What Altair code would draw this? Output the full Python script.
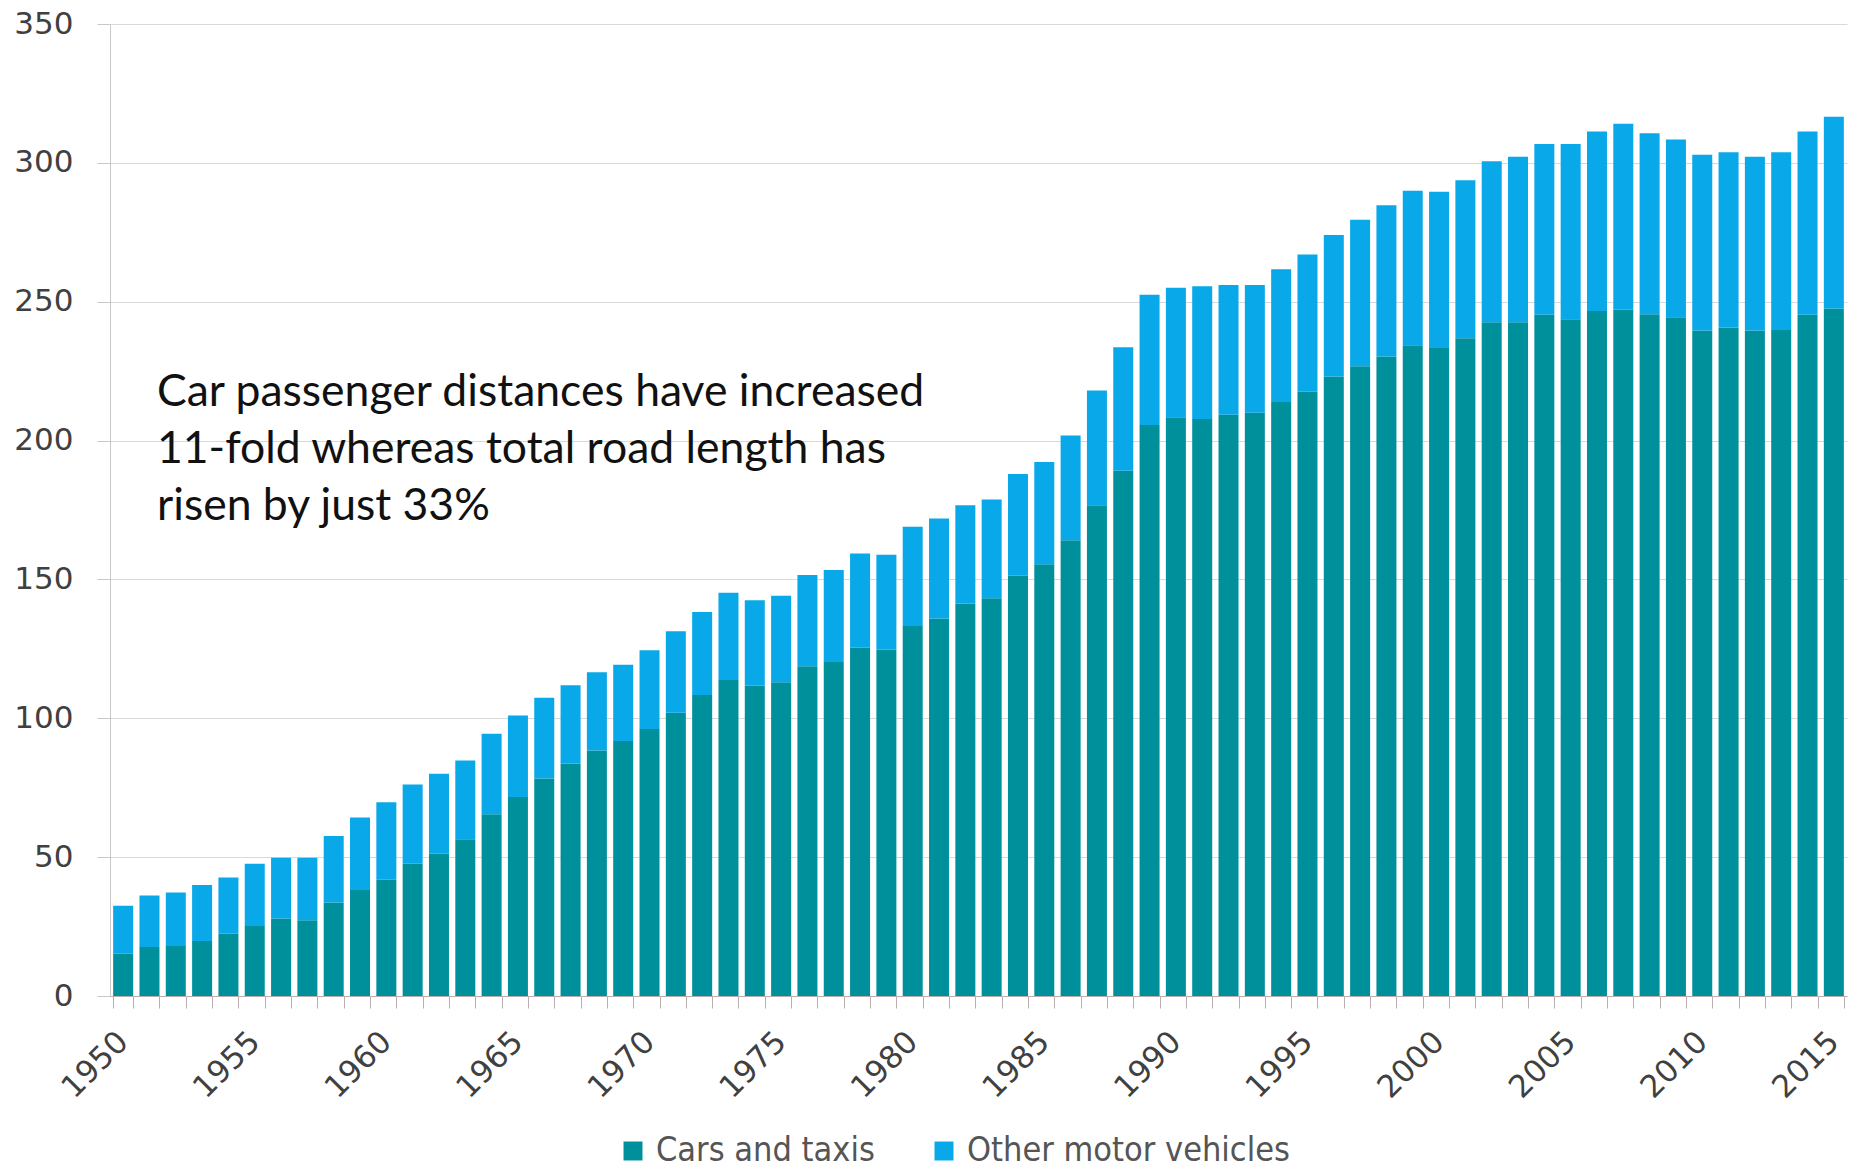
import altair as alt
import pandas as pd

# Road passenger traffic, billion vehicle kilometres, by year
years = list(range(1950, 2016))

cars_taxis = [
    15.2, 17.6, 18.0, 19.8, 22.5, 25.2, 27.9, 27.3, 33.7, 38.2,
    41.9, 47.6, 51.2, 56.4, 65.4, 71.7, 78.3, 83.7, 88.4, 91.8,
    96.1, 102.0, 108.4, 113.8, 111.7, 113.0, 118.7, 120.3, 125.4, 124.8,
    133.2, 135.9, 141.3, 143.2, 151.3, 155.5, 164.1, 176.7, 189.1, 205.6,
    208.4, 207.8, 209.3, 210.0, 213.9, 217.6, 223.1, 226.8, 230.3, 234.3,
    233.3, 236.8, 242.6, 242.6, 245.3, 243.7, 246.7, 247.1, 245.5, 244.4,
    239.6, 240.7, 239.6, 239.8, 245.3, 247.6,
]

other_motor = [
    17.3, 18.6, 19.3, 20.2, 20.2, 22.4, 21.9, 22.5, 23.9, 26.1,
    27.9, 28.6, 28.8, 28.4, 29.0, 29.3, 29.1, 28.2, 28.2, 27.5,
    28.4, 29.3, 29.9, 31.4, 30.8, 31.1, 32.9, 33.1, 33.9, 34.1,
    35.8, 36.0, 35.4, 35.6, 36.7, 36.8, 37.7, 41.3, 44.5, 46.9,
    46.6, 47.8, 46.7, 46.0, 47.8, 49.4, 50.9, 52.7, 54.4, 55.7,
    56.3, 56.9, 58.0, 59.6, 61.5, 63.1, 64.6, 67.0, 65.2, 64.0,
    63.3, 63.1, 62.6, 64.0, 66.0, 69.0,
]

series_names = ["Cars and taxis", "Other motor vehicles"]
series_colors = ["#00909b", "#09a8e8"]

note_lines = [
    "Car passenger distances have increased",
    "11-fold whereas total road length has",
    "risen by just 33%",
]

rows = []
for y, c, o in zip(years, cars_taxis, other_motor):
    rows.append({"year": y, "series": series_names[0], "value": c, "stack_order": 0})
    rows.append({"year": y, "series": series_names[1], "value": o, "stack_order": 1})
df = pd.DataFrame(rows)

axis_grey = "#c8c8c8"
label_grey = "#404040"

bars = alt.Chart(df).mark_bar().encode(
    x=alt.X(
        "year:O",
        title=None,
        scale=alt.Scale(paddingInner=0.24, paddingOuter=0.12),
        axis=alt.Axis(
            labelExpr="datum.value % 5 === 0 ? datum.label : ''",
            labelAngle=-45,
            labelAlign="right",
            labelBaseline="middle",
            labelFont="DejaVu Sans",
            labelFontSize=31,
            labelColor=label_grey,
            labelPadding=29,
            labelOverlap=False,
            tickBand="extent",
            tickSize=12,
            tickColor="#bcaeae",
            domainColor="#bcaeae",
            grid=False,
        ),
    ),
    y=alt.Y(
        "value:Q",
        title=None,
        stack="zero",
        scale=alt.Scale(domain=[0, 350], nice=False),
        axis=alt.Axis(
            values=[0, 50, 100, 150, 200, 250, 300, 350],
            labelFont="DejaVu Sans",
            labelFontSize=31,
            labelColor=label_grey,
            labelPadding=24,
            tickSize=13,
            tickColor=axis_grey,
            domainColor=axis_grey,
            gridColor="#d9d9d9",
            grid=True,
        ),
    ),
    color=alt.Color(
        "series:N",
        scale=alt.Scale(domain=series_names, range=series_colors),
        legend=alt.Legend(
            title=None,
            orient="none",
            direction="horizontal",
            legendX=506,
            legendY=1110,
            symbolType="square",
            symbolSize=360,
            symbolStrokeWidth=0,
            labelFont="Liberation Sans Narrow, DejaVu Sans Condensed, Roboto, sans-serif",
            labelFontSize=34,
            labelColor="#555555",
            labelLimit=600,
            labelOffset=6,
            columnPadding=52,
        ),
    ),
    order=alt.Order("stack_order:Q", sort="ascending"),
)

note = alt.Chart(pd.DataFrame({"text": [note_lines]})).mark_text(
    align="left",
    baseline="alphabetic",
    font="Lato",
    fontSize=44.5,
    lineHeight=57,
    color="#111111",
).encode(
    x=alt.value(47),
    y=alt.value(382),
    text="text",
)

chart = (
    alt.layer(bars, note)
    .properties(
        width=1737,
        height=972,
        autosize=alt.AutoSizeParams(type="none"),
        padding={"left": 110, "top": 24, "right": 7, "bottom": 179},
        background="white",
    )
    .configure_view(stroke=None)
)

chart.save("out.html", embed_options={"renderer": "svg", "actions": False})
